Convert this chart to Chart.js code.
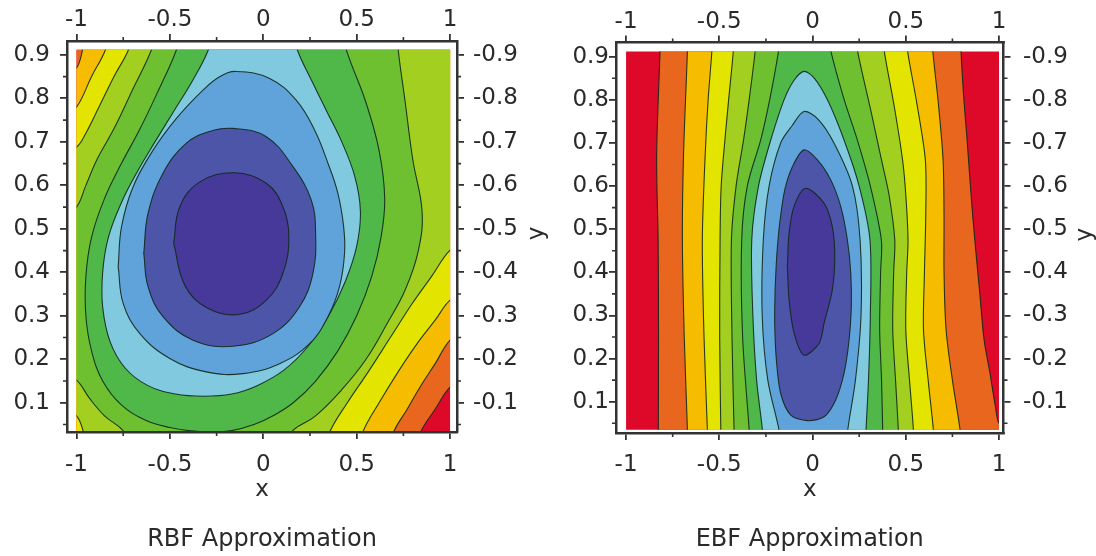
<!DOCTYPE html>
<html>
<head>
<meta charset="utf-8">
<script src="https://cdn.jsdelivr.net/npm/chart.js@4.4.1/dist/chart.umd.min.js"></script>
<style>
  html, body { margin: 0; padding: 0; background: #fff; }
  #wrap { position: relative; width: 1096px; height: 556px; }
  .panel { position: absolute; top: 0; width: 548px; height: 556px; }
</style>
</head>
<body>
<div id="wrap">
  <div class="panel" style="left:0"><canvas id="rbfChart" width="548" height="556"></canvas></div>
  <div class="panel" style="left:548px"><canvas id="ebfChart" width="548" height="556"></canvas></div>
</div>
<script>
// axes
var xTicks = [-1, -0.5, 0, 0.5, 1];
var xTickLabels = ['-1', '-0.5', '0', '0.5', '1'];
var xMinorTicks = [-0.75, -0.25, 0.25, 0.75];
var yTicks = [0.1, 0.2, 0.3, 0.4, 0.5, 0.6, 0.7, 0.8, 0.9];
var yTickLabels = ['0.1', '0.2', '0.3', '0.4', '0.5', '0.6', '0.7', '0.8', '0.9'];
var yTickLabelsRight = ['-0.1', '-0.2', '-0.3', '-0.4', '-0.5', '-0.6', '-0.7', '-0.8', '-0.9'];
var yMinorTicks = [0.05, 0.15, 0.25, 0.35, 0.45, 0.55, 0.65, 0.75, 0.85];
var xDomain = [-1, 1];
var yDomain = [0.035, 0.912];

// contour levels, lowest to highest
var levelColors = ['#46399a', '#4d55a8', '#5fa3da', '#80c9de', '#50b848', '#6ec031', '#a3cf20', '#e3e500', '#f6bd00', '#e9661e', '#de0829'];

// ---- RBF contours (x, y) ----
var rbfC1 = [[-0.48, 0.467], [-0.447, 0.551], [-0.34, 0.608], [-0.153, 0.629], [0.016, 0.605], [0.105, 0.551], [0.137, 0.482],
  [0.105, 0.398], [0.016, 0.336], [-0.13, 0.303], [-0.30, 0.318], [-0.42, 0.37]];
var rbfC2 = [[-0.64, 0.444], [-0.617, 0.536], [-0.537, 0.628], [-0.412, 0.697], [-0.287, 0.724], [-0.162, 0.731], [0.016, 0.712],
  [0.159, 0.643], [0.257, 0.566], [0.28, 0.49], [0.266, 0.398], [0.194, 0.321], [0.052, 0.259], [-0.162, 0.23],
  [-0.376, 0.244], [-0.537, 0.298], [-0.617, 0.367]];
var rbfC3 = [[-0.777, 0.413], [-0.759, 0.505], [-0.697, 0.597], [-0.59, 0.681], [-0.465, 0.754], [-0.323, 0.819], [-0.234, 0.85],
  [-0.144, 0.862], [0.034, 0.846], [0.176, 0.796], [0.275, 0.727], [0.346, 0.651], [0.399, 0.582], [0.43, 0.505],
  [0.435, 0.444], [0.408, 0.367], [0.346, 0.298], [0.248, 0.236], [0.087, 0.19], [-0.109, 0.167], [-0.305, 0.171],
  [-0.501, 0.202], [-0.661, 0.259], [-0.75, 0.328]];
var rbfC4 = [[-0.294, 0.912], [-0.38, 0.84], [-0.48, 0.77], [-0.58, 0.70], [-0.67, 0.635], [-0.76, 0.56], [-0.83, 0.48],
  [-0.86, 0.40], [-0.86, 0.32], [-0.82, 0.24], [-0.74, 0.18], [-0.62, 0.14], [-0.47, 0.12], [-0.32, 0.115],
  [-0.17, 0.12], [-0.03, 0.14], [0.11, 0.175], [0.24, 0.23], [0.35, 0.30], [0.44, 0.38], [0.50, 0.46], [0.52, 0.54],
  [0.49, 0.62], [0.42, 0.70], [0.34, 0.77], [0.26, 0.84], [0.182, 0.912]];
var rbfC5 = [[-0.465, 0.912], [-0.56, 0.82], [-0.66, 0.73], [-0.76, 0.65], [-0.85, 0.57], [-0.92, 0.48], [-0.95, 0.39],
  [-0.95, 0.30], [-0.92, 0.22], [-0.86, 0.15], [-0.76, 0.095], [-0.63, 0.06], [-0.50, 0.043], [-0.40, 0.036],
  [-0.28, 0.033], [-0.17, 0.036], [-0.05, 0.05], [0.06, 0.072], [0.16, 0.10], [0.28, 0.15], [0.40, 0.22], [0.50, 0.30],
  [0.58, 0.39], [0.63, 0.48], [0.65, 0.57], [0.62, 0.68], [0.55, 0.79], [0.444, 0.912]];
var rbfC6a = [[0.155, 0.035], [0.28, 0.07], [0.42, 0.13], [0.55, 0.20], [0.66, 0.28], [0.76, 0.36], [0.83, 0.45], [0.85, 0.54],
  [0.80, 0.66], [0.76, 0.79], [0.722, 0.912]];
var rbfC6b = [[-0.599, 0.912], [-0.70, 0.82], [-0.80, 0.73], [-0.89, 0.66], [-0.95, 0.60], [-1, 0.55]];
var rbfC6c = [[-1, 0.152], [-0.93, 0.11], [-0.85, 0.07], [-0.749, 0.035]];
var rbfC7a = [[0.358, 0.035], [0.45, 0.10], [0.56, 0.17], [0.68, 0.25], [0.80, 0.33], [0.90, 0.39], [1, 0.451]];
var rbfC7b = [[-0.722, 0.912], [-0.80, 0.85], [-0.88, 0.78], [-0.95, 0.72], [-1, 0.688]];
var rbfC7c = [[-1, 0.07], [-0.965, 0.035]];
var rbfC8a = [[0.535, 0.035], [0.62, 0.10], [0.72, 0.17], [0.83, 0.24], [0.92, 0.29], [1, 0.336]];
var rbfC8b = [[-0.845, 0.912], [-0.92, 0.85], [-1, 0.78]];
var rbfC9a = [[0.70, 0.035], [0.77, 0.085], [0.84, 0.137], [0.92, 0.19], [1, 0.244]];
var rbfC9b = [[-0.968, 0.912], [-1, 0.87]];
var rbfC10 = [[0.845, 0.035], [0.92, 0.085], [1, 0.136]];

// ---- EBF contours (x, y) ----
var ebfC1 = [[-0.135, 0.413], [-0.126, 0.491], [-0.099, 0.553], [-0.037, 0.595], [0.062, 0.56], [0.106, 0.506], [0.119, 0.437],
  [0.106, 0.359], [0.062, 0.282], [0.035, 0.235], [-0.046, 0.208], [-0.099, 0.259], [-0.126, 0.336]];
var ebfC2 = [[-0.201, 0.359], [-0.192, 0.437], [-0.176, 0.514], [-0.149, 0.591], [-0.108, 0.645], [-0.046, 0.684], [0.026, 0.661],
  [0.097, 0.615], [0.151, 0.553], [0.187, 0.475], [0.205, 0.398], [0.208, 0.321], [0.196, 0.243], [0.169, 0.166],
  [0.124, 0.104], [0.062, 0.065], [-0.028, 0.056], [-0.117, 0.069], [-0.171, 0.119], [-0.194, 0.197], [-0.203, 0.282]];
var ebfC3 = [[0.189, 0.035], [0.23, 0.15], [0.26, 0.30], [0.255, 0.475], [0.214, 0.60], [0.115, 0.70], [0.03, 0.755],
  [-0.046, 0.773], [-0.11, 0.74], [-0.171, 0.70], [-0.233, 0.60], [-0.264, 0.475], [-0.27, 0.30], [-0.24, 0.15], [-0.18, 0.035]];
var ebfC4 = [[0.287, 0.035], [0.30, 0.15], [0.31, 0.30], [0.308, 0.475], [0.25, 0.60], [0.169, 0.707], [0.08, 0.80], [0.01, 0.85],
  [-0.046, 0.866], [-0.10, 0.845], [-0.153, 0.80], [-0.224, 0.707], [-0.29, 0.60], [-0.326, 0.475], [-0.32, 0.30],
  [-0.30, 0.15], [-0.269, 0.035]];
var ebfC5L = [[-0.183, 0.912], [-0.23, 0.80], [-0.278, 0.707], [-0.35, 0.60], [-0.38, 0.475], [-0.375, 0.25], [-0.34, 0.035]];
var ebfC5R = [[0.376, 0.035], [0.37, 0.15], [0.36, 0.267], [0.365, 0.40], [0.369, 0.475], [0.31, 0.60], [0.24, 0.707], [0.17, 0.80], [0.099, 0.912]];
var ebfC6L = [[-0.308, 0.912], [-0.34, 0.80], [-0.37, 0.707], [-0.41, 0.60], [-0.435, 0.475], [-0.432, 0.25], [-0.421, 0.035]];
var ebfC6R = [[0.46, 0.035], [0.445, 0.15], [0.43, 0.267], [0.435, 0.40], [0.441, 0.475], [0.41, 0.58], [0.37, 0.66], [0.31, 0.78], [0.242, 0.912]];
var ebfC7L = [[-0.425, 0.912], [-0.45, 0.80], [-0.47, 0.707], [-0.49, 0.60], [-0.496, 0.475], [-0.498, 0.25], [-0.492, 0.035]];
var ebfC7R = [[0.541, 0.035], [0.52, 0.15], [0.50, 0.267], [0.505, 0.40], [0.512, 0.475], [0.50, 0.58], [0.483, 0.66], [0.44, 0.78], [0.385, 0.912]];
var ebfC8L = [[-0.54, 0.912], [-0.56, 0.80], [-0.576, 0.67], [-0.591, 0.475], [-0.582, 0.25], [-0.564, 0.035]];
var ebfC8R = [[0.648, 0.035], [0.62, 0.15], [0.595, 0.267], [0.60, 0.40], [0.607, 0.53], [0.605, 0.66], [0.56, 0.79], [0.51, 0.912]];
var ebfC9L = [[-0.671, 0.912], [-0.692, 0.67], [-0.698, 0.475], [-0.688, 0.25], [-0.671, 0.035]];
var ebfC9R = [[0.791, 0.035], [0.75, 0.15], [0.716, 0.267], [0.705, 0.40], [0.705, 0.53], [0.70, 0.66], [0.675, 0.79], [0.645, 0.912]];
var ebfC10L = [[-0.818, 0.912], [-0.836, 0.67], [-0.828, 0.475], [-0.826, 0.25], [-0.827, 0.035]];
var ebfC10R = [[1, 0.05], [0.98, 0.09], [0.95, 0.17], [0.92, 0.243], [0.895, 0.36], [0.87, 0.475], [0.85, 0.58], [0.83, 0.70], [0.81, 0.81], [0.796, 0.912]];

// region "below level k": pieces go round it counter-clockwise, or a closed loop
var rbfRegions = [
  { level: 10, pieces: [rbfC10] },
  { level: 9, pieces: [rbfC9a, rbfC9b] },
  { level: 8, pieces: [rbfC8a, rbfC8b] },
  { level: 7, pieces: [rbfC7a, rbfC7b, rbfC7c] },
  { level: 6, pieces: [rbfC6a, rbfC6b, rbfC6c] },
  { level: 5, pieces: [rbfC5] },
  { level: 4, pieces: [rbfC4] },
  { level: 3, loop: rbfC3 },
  { level: 2, loop: rbfC2 },
  { level: 1, loop: rbfC1 }
];
var ebfRegions = [
  { level: 10, pieces: [ebfC10L, ebfC10R] },
  { level: 9, pieces: [ebfC9L, ebfC9R] },
  { level: 8, pieces: [ebfC8L, ebfC8R] },
  { level: 7, pieces: [ebfC7L, ebfC7R] },
  { level: 6, pieces: [ebfC6L, ebfC6R] },
  { level: 5, pieces: [ebfC5L, ebfC5R] },
  { level: 4, pieces: [ebfC4] },
  { level: 3, pieces: [ebfC3] },
  { level: 2, loop: ebfC2 },
  { level: 1, loop: ebfC1 }
];

var fontFamily = 'DejaVu Sans';
var textColor = '#2a2a2a';
var frameColor = '#333333';
var lineColor = 'rgba(18, 40, 28, 0.9)';

// closing a region outside the plotted box (clipped away when drawn)
var EXT_X = [0.04, 0.14], EXT_Y = [0.02, 0.06];
var NORMALS = [[0, -1], [1, 0], [0, 1], [-1, 0]];

function edgeOf(p) {
  var d = [Math.abs(p[1] - yDomain[0]), Math.abs(p[0] - xDomain[1]), Math.abs(p[1] - yDomain[1]), Math.abs(p[0] - xDomain[0])];
  var k = 0;
  for (var i = 1; i < 4; i++) if (d[i] < d[k]) k = i;
  return k;
}

function perimeterPos(p) {
  var W = xDomain[1] - xDomain[0], H = yDomain[1] - yDomain[0];
  var e = edgeOf(p);
  if (e === 0) return p[0] - xDomain[0];
  if (e === 1) return W + p[1] - yDomain[0];
  if (e === 2) return W + H + xDomain[1] - p[0];
  return 2 * W + H + yDomain[1] - p[1];
}

function pushOut(p, k) {
  var n = NORMALS[edgeOf(p)];
  return [p[0] + n[0] * EXT_X[k], p[1] + n[1] * EXT_Y[k]];
}

function outerCorner(i) {
  var ox = EXT_X[1], oy = EXT_Y[1];
  return [[xDomain[0] - ox, yDomain[0] - oy], [xDomain[1] + ox, yDomain[0] - oy],
    [xDomain[1] + ox, yDomain[1] + oy], [xDomain[0] - ox, yDomain[1] + oy]][i];
}

function regionPath(pieces) {
  var W = xDomain[1] - xDomain[0], H = yDomain[1] - yDomain[0], P = 2 * (W + H);
  var cornerPos = [0, W, W + H, 2 * W + H];
  var out = [];
  pieces.forEach(function (piece, i) {
    var next = pieces[(i + 1) % pieces.length];
    var s = piece[0], e = piece[piece.length - 1];
    out.push(pushOut(s, 1), pushOut(s, 0));
    out = out.concat(piece);
    out.push(pushOut(e, 0), pushOut(e, 1));
    var t0 = perimeterPos(e), t1 = perimeterPos(next[0]);
    if (t1 <= t0) t1 += P;
    for (var c = 0; c < 8; c++) {
      var tc = cornerPos[c % 4] + (c >= 4 ? P : 0);
      if (tc > t0 && tc < t1) out.push(outerCorner(c % 4));
    }
  });
  return out;
}

function toXY(pts) {
  return pts.map(function (p) { return { x: p[0], y: p[1] }; });
}

var panelPlugin = {
  id: 'panel',
  beforeDatasetsDraw: function (chart) {
    var ctx = chart.ctx, sx = chart.scales.x, sy = chart.scales.y;
    var l = sx.getPixelForValue(xDomain[0]), r = sx.getPixelForValue(xDomain[1]);
    var t = sy.getPixelForValue(yDomain[1]), b = sy.getPixelForValue(yDomain[0]);
    ctx.save();
    ctx.beginPath();
    ctx.rect(l, t, r - l, b - t);
    ctx.clip();
  },
  afterDatasetsDraw: function (chart) {
    chart.ctx.restore();
  },
  afterDraw: function (chart) {
    var ctx = chart.ctx, ca = chart.chartArea, s = chart.scales;
    // minor ticks, shorter than the major ones
    ctx.save();
    ctx.strokeStyle = frameColor;
    ctx.lineWidth = 1.6;
    ctx.beginPath();
    xMinorTicks.forEach(function (v) {
      var px = s.x.getPixelForValue(v);
      ctx.moveTo(px, ca.bottom); ctx.lineTo(px, ca.bottom + 4);
      ctx.moveTo(px, ca.top); ctx.lineTo(px, ca.top - 4);
    });
    yMinorTicks.forEach(function (v) {
      var py = s.y.getPixelForValue(v);
      ctx.moveTo(ca.left, py); ctx.lineTo(ca.left - 4, py);
      ctx.moveTo(ca.right, py); ctx.lineTo(ca.right + 4, py);
    });
    ctx.stroke();
    ctx.restore();

    // the right-hand "y" reads bottom to top
    ctx.save();
    ctx.translate(ca.right + chart.options.plugins.panel.yTitleOffset, (ca.top + ca.bottom) / 2 - 3);
    ctx.rotate(-Math.PI / 2);
    ctx.font = '23px "' + fontFamily + '"';
    ctx.fillStyle = textColor;
    ctx.textAlign = 'center';
    ctx.textBaseline = 'middle';
    ctx.fillText('y', 0, 0);
    ctx.restore();
  }
};

function axis(position, range, ticks, labels, pad, size, title) {
  return {
    type: 'linear',
    position: position,
    min: range[0],
    max: range[1],
    z: 1,
    afterBuildTicks: function (s) {
      s.ticks = ticks.map(function (v) { return { value: v }; });
    },
    afterFit: function (s) {
      if (s.isHorizontal()) s.height = size; else s.width = size;
    },
    border: { display: true, color: frameColor, width: 2.5 },
    grid: { drawOnChartArea: false, color: frameColor, lineWidth: 1.8, tickLength: 7 },
    ticks: {
      autoSkip: false,
      maxRotation: 0,
      padding: pad,
      color: textColor,
      font: { family: fontFamily, size: 23 },
      callback: function (v, i) { return labels[i]; }
    },
    title: title || { display: false }
  };
}

function makePanel(canvasId, spec) {
  var datasets = [{
    data: toXY([outerCorner(0), outerCorner(1), outerCorner(2), outerCorner(3)]),
    backgroundColor: levelColors[10],
    borderWidth: 0,
    tension: 0,
    order: 20
  }];
  spec.regions.forEach(function (r) {
    var pts = r.loop ? r.loop.concat([r.loop[0]]) : regionPath(r.pieces);
    datasets.push({
      data: toXY(pts),
      backgroundColor: levelColors[r.level - 1],
      borderColor: lineColor,
      borderWidth: 1.1,
      tension: spec.tension,
      order: r.level
    });
  });
  datasets.forEach(function (d) {
    d.showLine = true;
    d.fill = 'shape';
    d.pointRadius = 0;
    d.capBezierPoints = false;
  });

  return new Chart(document.getElementById(canvasId).getContext('2d'), {
    type: 'scatter',
    data: { datasets: datasets },
    options: {
      responsive: false,
      animation: false,
      events: [],
      layout: { padding: 0 },
      scales: {
        x: axis('bottom', spec.xRange, xTicks, xTickLabels, spec.pad.bottom, spec.box.bottom, {
          display: true, text: 'x', color: textColor,
          font: { family: fontFamily, size: 23 }, padding: { top: 0, bottom: 21 }
        }),
        x2: axis('top', spec.xRange, xTicks, xTickLabels, spec.pad.top, spec.box.top),
        y: axis('left', spec.yRange, yTicks, yTickLabels, spec.pad.left, spec.box.left),
        y2: axis('right', spec.yRange, yTicks, yTickLabelsRight, spec.pad.right, spec.box.right)
      },
      plugins: {
        legend: { display: false },
        tooltip: { enabled: false },
        title: {
          display: true,
          text: spec.caption,
          position: 'bottom',
          fullSize: false,
          color: textColor,
          font: { family: fontFamily, size: 24, weight: 'normal' },
          padding: { top: 0, bottom: 2 }
        },
        panel: { yTitleOffset: spec.yTitleOffset }
      }
    },
    plugins: [panelPlugin]
  });
}

makePanel('rbfChart', {
  caption: 'RBF Approximation',
  regions: rbfRegions,
  tension: 0.4,
  xRange: [-1.051, 1.037],
  yRange: [0.0328, 0.932],
  box: { left: 67, right: 91, top: 41, bottom: 93.2 },
  pad: { left: 10, right: 9, top: 0, bottom: 12 },
  yTitleOffset: 80
});

makePanel('ebfChart', {
  caption: 'EBF Approximation',
  regions: ebfRegions,
  tension: 0.3,
  xRange: [-1.054, 1.024],
  yRange: [0.0274, 0.933],
  box: { left: 68, right: 92.5, top: 42.5, bottom: 92.2 },
  pad: { left: 0, right: 12.5, top: 0, bottom: 11 },
  yTitleOffset: 81.5
});
</script>
</body>
</html>
